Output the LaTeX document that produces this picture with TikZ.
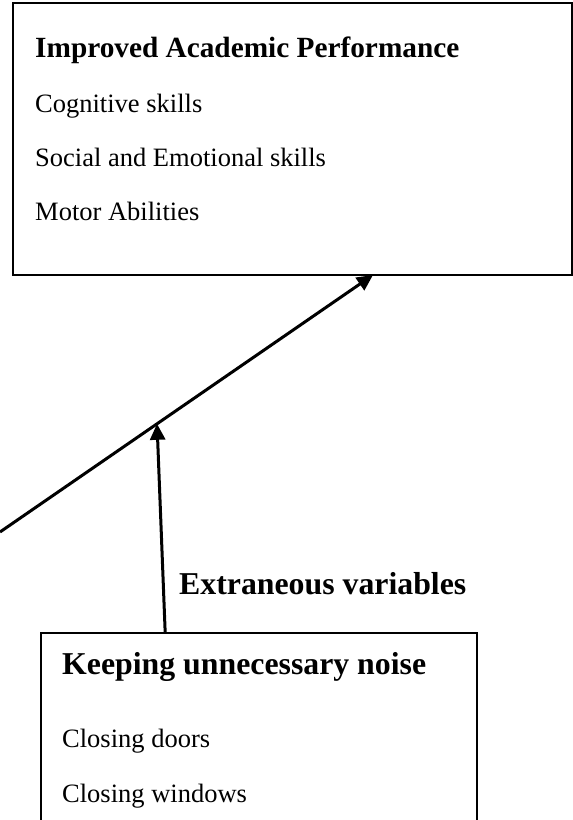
\documentclass[tikz,border=0pt]{standalone}
\usepackage{fontspec}
\setmainfont{Liberation Serif}
\usetikzlibrary{arrows.meta,calc}
\begin{document}
\begin{tikzpicture}[x=1pt,y=-1pt,
  box/.style={draw,line width=2pt,inner sep=0pt,outer sep=0pt,anchor=north west},
  head/.style={anchor=base west,inner sep=0pt,font=\fontsize{31.8}{36}\selectfont\bfseries},
  item/.style={anchor=base west,inner sep=0pt,font=\fontsize{26.5}{30}\selectfont},
  link/.style={line width=3pt,-{Triangle[length=16pt,width=15pt]}}]
\useasboundingbox (0,0) rectangle (573,820);
\clip (0,0) rectangle (573,820);
% outcome box
\node[box,minimum width=558.5pt,minimum height=272pt] (outcome) at (13,3) {};
\node[head,font=\fontsize{29.3}{34}\selectfont\bfseries] (title) at (35,57) {Improved Academic Performance};
\node[item] (cog) at (35,112) {Cognitive skills};
\node[item] (soc) at (35,166) {Social and Emotional skills};
\node[item] (motor) at (35,220) {Motor Abilities};
% noise box (cut off at the bottom)
\node[box,minimum width=435.8pt,minimum height=250pt] (noise) at (40.7,633) {};
\node[head] (noisehead) at (62,674) {Keeping unnecessary noise};
\node[item] (doors) at (62,747) {Closing doors};
\node[item] (windows) at (62,802) {Closing windows};
\node[head] (extra) at (179,594) {Extraneous variables};
% arrows
\coordinate (start) at (0,532);
\coordinate (hit) at ($(outcome.south west)+(360,0)$);
\coordinate (meet) at ($(start)!0.421!(hit)$);
\coordinate (foot) at ($(noise.north west)+(124.5,0)$);
\draw[link] (start) -- (hit);
\draw[link] (foot) -- (meet);
\end{tikzpicture}
\end{document}
